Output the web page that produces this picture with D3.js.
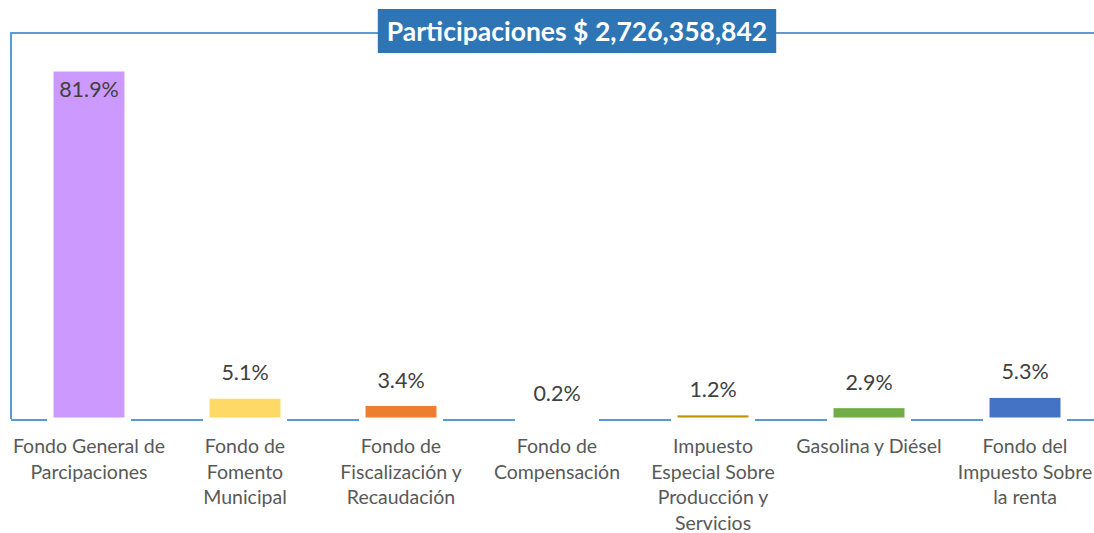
<!DOCTYPE html>
<html>
<head>
<meta charset="utf-8">
<script src="https://cdn.jsdelivr.net/npm/d3@7"></script>
<style>
  body { margin: 0; background: #fff; }
  svg { display: block; font-family: Lato, "Open Sans", sans-serif; }
</style>
</head>
<body>
<script>
// datos
const categorias = [
  ["Fondo General de", "Parcipaciones"],
  ["Fondo de", "Fomento", "Municipal"],
  ["Fondo de", "Fiscalización y", "Recaudación"],
  ["Fondo de", "Compensación"],
  ["Impuesto", "Especial Sobre", "Producción y", "Servicios"],
  ["Gasolina y Diésel"],
  ["Fondo del", "Impuesto Sobre", "la renta"]
];
const porcentajes = [81.9, 5.1, 3.4, 0.2, 1.2, 2.9, 5.3];
const colores = ["#CC99FF", "#FFD966", "#ED7D31", "#A5A5A5", "#BF9000", "#70AD47", "#4472C4"];
const titulo = "Participaciones $ 2,726,358,842";

const W = 1094, H = 533;
const mIzq = 11, mDer = 1103, mSup = 33, base = 419;

const svg = d3.select("body").append("svg")
  .attr("width", W).attr("height", H);

const x = d3.scaleBand()
  .domain(d3.range(porcentajes.length))
  .range([mIzq, mDer])
  .paddingInner(0.526).paddingOuter(0.263);

const y = d3.scaleLinear()
  .domain([0, 81.9]).range([base, 70]);

const azul = "#5B9BD5";

// marco (izquierda + arriba) y eje
svg.append("path")
  .attr("d", `M${mIzq},${base} V${mSup} H${W}`)
  .attr("fill", "none").attr("stroke", azul).attr("stroke-width", 2);
svg.append("line")
  .attr("x1", mIzq).attr("x2", W).attr("y1", base + 1).attr("y2", base + 1)
  .attr("stroke", azul).attr("stroke-width", 2);

// huecos blancos en el eje debajo de cada barra
svg.append("g").selectAll("rect")
  .data(porcentajes)
  .join("rect")
    .attr("x", (d, i) => x(i) - 5)
    .attr("width", x.bandwidth() + 10)
    .attr("y", base - 2).attr("height", 5)
    .attr("fill", "#fff");

// barras
svg.append("g").selectAll("rect")
  .data(porcentajes)
  .join("rect")
    .attr("x", (d, i) => x(i))
    .attr("width", x.bandwidth())
    .attr("y", d => y(d))
    .attr("height", d => base - y(d))
    .attr("fill", (d, i) => colores[i])
    .attr("stroke", "#fff")
    .attr("stroke-width", 3);

// etiquetas de porcentaje
svg.append("g").selectAll("text")
  .data(porcentajes)
  .join("text")
    .attr("x", (d, i) => x(i) + x.bandwidth() / 2)
    .attr("y", d => d > 50 ? y(d) + 27 : y(d) - 17)
    .attr("text-anchor", "middle")
    .attr("fill", "#404040")
    .style("font-size", "21.5px")
    .text(d => d.toFixed(1) + "%");

// categorías
const cat = svg.append("g").selectAll("text")
  .data(categorias)
  .join("text")
    .attr("x", (d, i) => x(i) + x.bandwidth() / 2)
    .attr("y", 453)
    .attr("text-anchor", "middle")
    .attr("fill", "#595959")
    .style("font-size", "19.5px");
cat.selectAll("tspan")
  .data(d => d)
  .join("tspan")
    .attr("x", function() { return d3.select(this.parentNode).attr("x"); })
    .attr("dy", (d, i) => i === 0 ? 0 : 25.5)
    .text(d => d);

// título
const tg = svg.append("g");
const tt = tg.append("text")
  .attr("x", 577).attr("y", 41)
  .attr("text-anchor", "middle")
  .attr("fill", "#fff")
  .style("font-size", "26.5px")
  .style("font-weight", "bold")
  .text(titulo);
const bb = tt.node().getBBox();
tg.insert("rect", "text")
  .attr("x", bb.x - 9).attr("width", bb.width + 18)
  .attr("y", 9).attr("height", 44)
  .attr("fill", "#2E75B6");
</script>
</body>
</html>
